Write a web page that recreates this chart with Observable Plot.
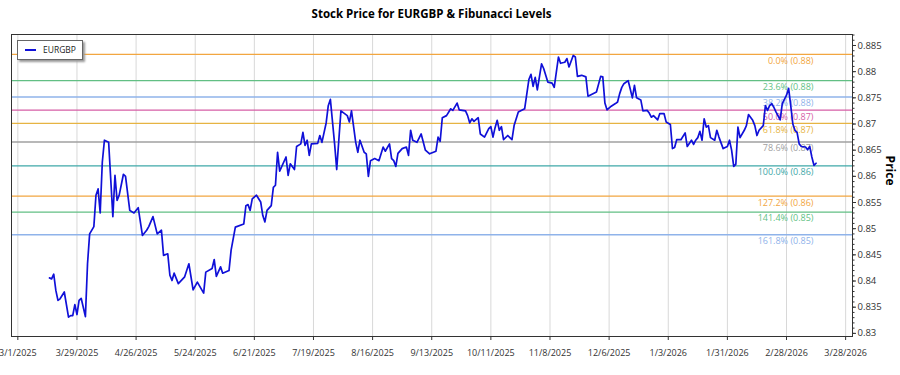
<!DOCTYPE html>
<html><head><meta charset="utf-8">
<script src="https://cdn.jsdelivr.net/npm/d3@7"></script>
<script src="https://cdn.jsdelivr.net/npm/@observablehq/plot@0.6"></script>
<style>
body{margin:0;background:#fff;font-family:"Open Sans","Noto Sans",sans-serif;}
#wrap{position:relative;width:900px;height:375px;overflow:hidden;}
#title{width:863px;height:28px;line-height:28px;text-align:center;font-weight:bold;font-size:11.5px;color:#000;}
#legend{position:absolute;left:17px;top:40px;width:64px;height:18px;border:1px solid #666;background:#fff;box-shadow:2px 2px 2px #999;font-size:8.5px;color:#222;}
#legend .sw{position:absolute;left:7px;top:8px;width:11px;height:0;border-top:2px solid #1010d8;}
#legend .lb{position:absolute;left:25px;top:3px;line-height:11px;}
</style></head>
<body>
<div id="wrap">
<div id="title">Stock Price for EURGBP &amp; Fibunacci Levels</div>
<div id="chart"></div>
<div id="legend"><span class="sw"></span><span class="lb">EURGBP</span></div>
</div>
<script>
const seriesName = "EURGBP";
const dates = [
"2025-03-16","2025-03-17","2025-03-18","2025-03-19","2025-03-20","2025-03-21","2025-03-23","2025-03-25","2025-03-26","2025-03-27",
"2025-03-28","2025-03-29","2025-03-30","2025-03-31","2025-04-02","2025-04-03","2025-04-04","2025-04-06","2025-04-07","2025-04-08",
"2025-04-09","2025-04-10","2025-04-11","2025-04-13","2025-04-15","2025-04-16","2025-04-17","2025-04-18","2025-04-20","2025-04-21",
"2025-04-23","2025-04-25","2025-04-27","2025-04-29","2025-05-01","2025-05-02","2025-05-04","2025-05-06","2025-05-08","2025-05-09",
"2025-05-11","2025-05-12","2025-05-13","2025-05-14","2025-05-16","2025-05-19","2025-05-21","2025-05-23","2025-05-25","2025-05-28",
"2025-05-29","2025-06-01","2025-06-02","2025-06-03","2025-06-05","2025-06-06","2025-06-09","2025-06-10","2025-06-12","2025-06-16",
"2025-06-17","2025-06-18","2025-06-19","2025-06-20","2025-06-22","2025-06-24","2025-06-25","2025-06-26","2025-06-27","2025-06-29",
"2025-06-30","2025-07-01","2025-07-02","2025-07-03","2025-07-06","2025-07-07","2025-07-08","2025-07-10","2025-07-11","2025-07-13",
"2025-07-14","2025-07-15","2025-07-16","2025-07-17","2025-07-18","2025-07-21","2025-07-22","2025-07-23","2025-07-25","2025-07-26",
"2025-07-27","2025-07-29","2025-07-30","2025-08-01","2025-08-04","2025-08-05","2025-08-06","2025-08-08","2025-08-09","2025-08-10",
"2025-08-12","2025-08-13","2025-08-14","2025-08-15","2025-08-17","2025-08-19","2025-08-21","2025-08-22","2025-08-24","2025-08-25",
"2025-08-26","2025-08-27","2025-08-28","2025-08-30","2025-09-01","2025-09-02","2025-09-03","2025-09-04","2025-09-06","2025-09-08",
"2025-09-10","2025-09-12","2025-09-15","2025-09-16","2025-09-17","2025-09-18","2025-09-20","2025-09-22","2025-09-23","2025-09-25",
"2025-09-26","2025-09-29","2025-09-30","2025-10-01","2025-10-02","2025-10-03","2025-10-05","2025-10-06","2025-10-08","2025-10-10",
"2025-10-11","2025-10-12","2025-10-13","2025-10-14","2025-10-15","2025-10-16","2025-10-17","2025-10-19","2025-10-21","2025-10-22",
"2025-10-24","2025-10-27","2025-10-29","2025-10-30","2025-10-31","2025-11-01","2025-11-02","2025-11-04","2025-11-05","2025-11-07",
"2025-11-09","2025-11-10","2025-11-12","2025-11-13","2025-11-15","2025-11-16","2025-11-17","2025-11-19","2025-11-20","2025-11-21",
"2025-11-23","2025-11-25","2025-11-26","2025-11-30","2025-12-02","2025-12-03","2025-12-04","2025-12-05","2025-12-07","2025-12-09",
"2025-12-10","2025-12-11","2025-12-12","2025-12-13","2025-12-15","2025-12-16","2025-12-17","2025-12-18","2025-12-19","2025-12-21",
"2025-12-22","2025-12-24","2025-12-25","2025-12-26","2025-12-27","2025-12-29","2025-12-30","2026-01-01","2026-01-02","2026-01-04",
"2026-01-05","2026-01-06","2026-01-07","2026-01-09","2026-01-11","2026-01-12","2026-01-14","2026-01-15","2026-01-16","2026-01-17",
"2026-01-18","2026-01-19","2026-01-20","2026-01-21","2026-01-22","2026-01-23","2026-01-25","2026-01-26","2026-01-27","2026-01-29",
"2026-01-31","2026-02-01","2026-02-02","2026-02-03","2026-02-04","2026-02-05","2026-02-06","2026-02-08","2026-02-09","2026-02-10",
"2026-02-12","2026-02-13","2026-02-14","2026-02-15","2026-02-17","2026-02-18","2026-02-19","2026-02-20","2026-02-21","2026-02-22",
"2026-02-23","2026-02-25","2026-02-26","2026-02-28","2026-03-01","2026-03-02","2026-03-03","2026-03-04","2026-03-05","2026-03-06",
"2026-03-07","2026-03-09","2026-03-10","2026-03-11","2026-03-12","2026-03-13","2026-03-14"
];
const prices = [
0.8406,0.8404,0.8413,0.8382,0.8363,0.8366,0.8379,0.8331,0.8334,0.8334,
0.8355,0.8336,0.8363,0.8367,0.8332,0.8433,0.8490,0.8504,0.8564,0.8576,
0.8530,0.8627,0.8669,0.8665,0.8523,0.8602,0.8554,0.8564,0.8604,0.8600,
0.8535,0.8530,0.8540,0.8487,0.8497,0.8504,0.8523,0.8490,0.8497,0.8449,
0.8452,0.8411,0.8401,0.8415,0.8395,0.8408,0.8433,0.8383,0.8398,0.8377,
0.8417,0.8424,0.8441,0.8409,0.8427,0.8415,0.8420,0.8459,0.8503,0.8509,
0.8544,0.8546,0.8535,0.8557,0.8564,0.8551,0.8525,0.8513,0.8535,0.8544,
0.8579,0.8583,0.8646,0.8610,0.8637,0.8602,0.8624,0.8613,0.8657,0.8662,
0.8684,0.8659,0.8669,0.8640,0.8662,0.8663,0.8678,0.8665,0.8702,0.8735,
0.8747,0.8662,0.8613,0.8725,0.8716,0.8704,0.8725,0.8665,0.8646,0.8669,
0.8646,0.8643,0.8600,0.8630,0.8634,0.8630,0.8656,0.8648,0.8662,0.8634,
0.8630,0.8619,0.8644,0.8653,0.8656,0.8640,0.8688,0.8669,0.8665,0.8681,
0.8650,0.8643,0.8648,0.8675,0.8667,0.8712,0.8716,0.8729,0.8726,0.8740,
0.8727,0.8725,0.8716,0.8702,0.8710,0.8705,0.8712,0.8681,0.8675,0.8691,
0.8695,0.8675,0.8693,0.8707,0.8688,0.8695,0.8670,0.8678,0.8670,0.8697,
0.8723,0.8729,0.8785,0.8795,0.8772,0.8789,0.8765,0.8815,0.8806,0.8780,
0.8778,0.8770,0.8828,0.8816,0.8818,0.8825,0.8809,0.8831,0.8828,0.8791,
0.8793,0.8790,0.8753,0.8761,0.8791,0.8790,0.8740,0.8727,0.8734,0.8739,
0.8742,0.8758,0.8770,0.8777,0.8783,0.8767,0.8750,0.8774,0.8750,0.8746,
0.8725,0.8726,0.8721,0.8713,0.8716,0.8708,0.8720,0.8720,0.8704,0.8699,
0.8653,0.8655,0.8670,0.8670,0.8683,0.8657,0.8669,0.8661,0.8669,0.8674,
0.8686,0.8669,0.8710,0.8694,0.8697,0.8674,0.8669,0.8688,0.8675,0.8653,
0.8657,0.8669,0.8650,0.8619,0.8623,0.8694,0.8674,0.8688,0.8697,0.8718,
0.8707,0.8697,0.8678,0.8688,0.8697,0.8735,0.8726,0.8735,0.8739,0.8732,
0.8723,0.8708,0.8739,0.8755,0.8768,0.8735,0.8700,0.8688,0.8684,0.8662,
0.8657,0.8656,0.8651,0.8657,0.8637,0.8621,0.8625
];
const fibHigh = 0.8833;
const fibLow = 0.8620;
const fibRatios = [0, 0.236, 0.382, 0.5, 0.618, 0.786, 1, 1.272, 1.414, 1.618];
const fibColors = ["#f2a640","#62bf84","#8fb3ea","#d65ea6","#e6b443","#a0a0a0","#3fa8a8","#f2a640","#62bf84","#8fb3ea"];
const xTickDates = ["2025-03-01","2025-03-29","2025-04-26","2025-05-24","2025-06-21","2025-07-19","2025-08-16","2025-09-13",
  "2025-10-11","2025-11-08","2025-12-06","2026-01-03","2026-01-31","2026-02-28","2026-03-28"];
const yTicks = [0.83,0.835,0.84,0.845,0.85,0.855,0.86,0.865,0.87,0.875,0.88,0.885];
const yMinorTicks = d3.range(830, 888).map(v => v / 1000);

const series = dates.map((d, i) => ({date: new Date(d), price: prices[i]}));
const fibRows = fibRatios.map((r, i) => {
  const v = fibHigh - r * (fibHigh - fibLow);
  return {value: v, color: fibColors[i], label: `${(r * 100).toFixed(1)}% (${v.toFixed(2)})`};
});
const xTicks = xTickDates.map(s => new Date(s));
const fmtDate = d => `${d.getUTCMonth() + 1}/${d.getUTCDate()}/${d.getUTCFullYear()}`;

const chart = Plot.plot({
  width: 900, height: 347,
  marginTop: 6, marginBottom: 39, marginLeft: 11, marginRight: 48,
  style: {fontFamily: '"Open Sans","Noto Sans",sans-serif', fontSize: "9px", color: "#333", background: "white"},
  x: {type: "utc", domain: [new Date("2025-02-26"), new Date("2026-03-31T06:00:00Z")]},
  y: {domain: [0.8294, 0.8871]},
  color: {type: "identity"},
  marks: [
    Plot.gridX(xTicks, {stroke: "#d8d8d8", strokeOpacity: 1}),
    Plot.ruleY(fibRows, {y: "value", stroke: "color", strokeWidth: 1.3}),
    Plot.text(fibRows, {y: "value", text: "label", fill: "color", frameAnchor: "right", dx: -39, dy: 6.5, textAnchor: "end", fontSize: 9}),
    Plot.line(series, {x: "date", y: "price", stroke: "#1010d8", strokeWidth: 1.7}),
    Plot.frame({stroke: "#333"}),
    Plot.axisX(xTicks, {tickSize: 4, tickPadding: 9, tickFormat: fmtDate, label: null, fontSize: 9}),
    Plot.axisY(yTicks, {anchor: "right", tickSize: 3, tickPadding: 2, tickFormat: d => String(+d.toFixed(3)), label: null, fontSize: 9.5}),
    Plot.axisY(yMinorTicks, {anchor: "right", tickSize: 1.5, tickFormat: () => "", label: null}),
    Plot.text([seriesName === "EURGBP" ? "Price" : "Price"], {text: d => d, frameAnchor: "right", dx: 37, rotate: 90, fontWeight: "bold", fontSize: 12, fill: "#000"})
  ]
});
document.getElementById("chart").appendChild(chart);
</script>
</body></html>
